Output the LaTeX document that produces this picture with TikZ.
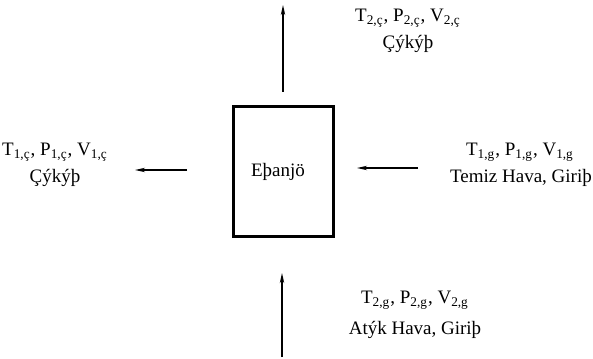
\documentclass[tikz,border=0pt]{standalone}
\usepackage{fontspec}
\setmainfont{Liberation Serif}
\usetikzlibrary{arrows.meta}

\begin{document}
\begin{tikzpicture}[x=0.5pt,y=0.5pt,font=\fontsize{9.5}{11}\selectfont]
\tikzset{flow/.style={line width=0.7pt,-{Stealth[length=5pt,width=2.2pt]}}}
\useasboundingbox (0,0) rectangle (593,358);
\node[draw,line width=1.5pt,minimum width=50pt,minimum height=65pt,inner sep=0pt] (box) at (283,186) {\hspace{-5pt}E\th anj\"o};
\coordinate (topA) at (283,266);
\coordinate (topB) at (283,353);
\coordinate (botA) at (282,1);
\coordinate (botB) at (282,85);
\coordinate (rightA) at (418,190);
\coordinate (rightB) at (357,190);
\coordinate (leftA) at (187,188);
\coordinate (leftB) at (135,188);
\draw[flow] (topA) -- (topB);
\draw[flow] (botA) -- (botB);
\draw[flow] (rightA) -- (rightB);
\draw[flow] (leftA) -- (leftB);
\node (outtwo) at (408,340) {T\textsubscript{2,ç}, P\textsubscript{2,ç}, V\textsubscript{2,ç}};
\node (outtwolab) at (408,314) {Çýkýþ};
\node (outone) at (55,206) {T\textsubscript{1,ç}, P\textsubscript{1,ç}, V\textsubscript{1,ç}};
\node (outonelab) at (55,180) {Çýkýþ};
\node (inone) at (520,206) {T\textsubscript{1,g}, P\textsubscript{1,g}, V\textsubscript{1,g}};
\node (inonelab) at (521,180) {Temiz Hava, Giriþ};
\node (intwo) at (415,58) {T\textsubscript{2,g}, P\textsubscript{2,g}, V\textsubscript{2,g}};
\node (intwolab) at (415,28) {Atýk Hava, Giriþ};
\end{tikzpicture}
\end{document}
